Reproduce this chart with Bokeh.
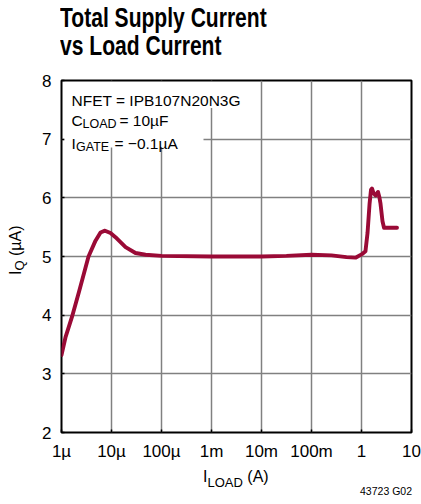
import math
from bokeh.plotting import figure
from bokeh.models import FixedTicker, Label, BoxAnnotation, Range1d, Div
from bokeh.layouts import column, row
from bokeh.embed import file_html
from bokeh.resources import INLINE

# ---------------- data ----------------
load_current_A = [1.0e-6, 1.20e-6, 1.62e-6, 2.24e-6, 3.47e-6, 4.79e-6, 6.03e-6,
                  7.41e-6, 9.55e-6, 1.20e-5, 1.91e-5, 3.02e-5, 4.79e-5, 1.0e-4,
                  1.0e-3, 1.0e-2, 3.16e-2, 0.1, 0.251, 0.501, 0.759, 1.02, 1.20,
                  1.32, 1.45, 1.55, 1.62, 1.74, 1.91, 2.14, 2.29, 2.40, 2.63,
                  2.82, 3.16, 5.13]
supply_current_uA = [3.32, 3.62, 3.97, 4.40, 5.00, 5.27, 5.41,
                     5.44, 5.40, 5.33, 5.16, 5.06, 5.03, 5.01,
                     5.00, 5.00, 5.01, 5.03, 5.02, 4.99, 4.98, 5.04, 5.09,
                     5.40, 5.90, 6.14, 6.16, 6.08, 6.04, 6.10, 6.00, 5.90, 5.60,
                     5.49, 5.49, 5.49]
x_ticks = [1e-6, 1e-5, 1e-4, 1e-3, 1e-2, 1e-1, 1, 10]
x_tick_labels = ["1µ", "10µ", "100µ", "1m", "10m", "100m", "1", "10"]
y_ticks = [2, 3, 4, 5, 6, 7, 8]

title_lines = ["Total Supply Current", "vs Load Current"]
figure_code = "43723 G02"

# ---------------- layout (page pixels) ----------------
PAGE_W, PAGE_H = 421, 504
TITLE_H = 64          # title strip height
YLAB_W = 30           # y-label strip width
BOTTOM_H = 40         # x-label strip height
FIG_X, FIG_Y = YLAB_W, TITLE_H
FIG_W, FIG_H = PAGE_W - YLAB_W, PAGE_H - TITLE_H - BOTTOM_H
F_L, F_R, F_T, F_B = 61, 411, 80, 432   # frame edges in page pixels
XMIN, XMAX, YMIN, YMAX = 1e-6, 10.0, 2.0, 8.0

def dx(px):
    lo, hi = math.log10(XMIN), math.log10(XMAX)
    return 10 ** (lo + (px - F_L) * (hi - lo) / (F_R - F_L))

def dy(py):
    return YMAX - (py - F_T) * (YMAX - YMIN) / (F_B - F_T)

FONT = "Liberation Sans"
CURVE = "#9a0a36"
ASC = 0.8465   # baseline offset (em) for line-height:1 in Liberation Sans

p = figure(width=FIG_W, height=FIG_H, x_axis_type="log",
           x_range=Range1d(XMIN, XMAX), y_range=Range1d(YMIN, YMAX),
           output_backend="svg", toolbar_location=None,
           min_border_left=F_L - FIG_X, min_border_right=FIG_X + FIG_W - F_R,
           min_border_top=F_T - FIG_Y, min_border_bottom=FIG_Y + FIG_H - F_B,
           margin=0)

p.background_fill_color = "white"
p.border_fill_color = "white"
p.outline_line_color = "black"
p.outline_line_width = 2

p.xaxis.ticker = FixedTicker(ticks=x_ticks)
p.xaxis.major_label_overrides = {t: l for t, l in zip(x_ticks, x_tick_labels)}
p.yaxis.ticker = FixedTicker(ticks=y_ticks)
for ax in (p.xaxis, p.yaxis):
    ax.axis_line_color = None
    ax.major_tick_in = 3
    ax.major_tick_out = 0
    ax.major_tick_line_color = "black"
    ax.major_tick_line_width = 1.5
    ax.minor_tick_line_color = None
    ax.major_label_text_font = FONT
    ax.major_label_text_font_size = "17px"
    ax.major_label_text_color = "black"
p.xaxis.major_label_standoff = 9
p.yaxis.major_label_standoff = 10

p.xgrid.ticker = FixedTicker(ticks=x_ticks)
p.ygrid.ticker = FixedTicker(ticks=y_ticks)
for g in (p.xgrid, p.ygrid):
    g.grid_line_color = "#808080"
    g.grid_line_width = 1.5

p.line(load_current_A, supply_current_uA, line_color=CURVE, line_width=3.9,
       line_join="round", line_cap="round")

# white background behind the condition text
p.add_layout(BoxAnnotation(left=dx(64), right=dx(246), top=dy(81.5), bottom=dy(107.5),
                           fill_color="white", fill_alpha=1, line_color=None))
p.add_layout(BoxAnnotation(left=dx(64), right=dx(203), top=dy(81.5), bottom=dy(147),
                           fill_color="white", fill_alpha=1, line_color=None))

def lab(px, py, text, size):
    p.add_layout(Label(x=dx(px), y=dy(py), text=text, text_font=FONT,
                       text_font_size=f"{size}px", text_color="black",
                       text_baseline="alphabetic", text_align="left"))

# conditions (inside the frame)
lab(71, 100, "NFET = IPB107N20N3G", 15.5)
lab(71, 120, "C", 15.5)
lab(82, 123.5, "LOAD", 12.5)
lab(119, 120, "= 10µF", 15.5)
lab(71, 143, "I", 15.5)
lab(75.5, 146.5, "GATE", 12.5)
lab(114, 143, "= \u22120.1µA", 15.5)

# ---------------- text strips outside the chart ----------------
def span(left, baseline, size, inner, extra=""):
    top = baseline - ASC * size
    return (f'<span style="position:absolute;left:{left}px;top:{top:.1f}px;'
            f'font-family:\'{FONT}\';font-size:{size}px;line-height:1;'
            f'white-space:nowrap;color:black;{extra}">{inner}</span>')

def box(w, h, inner):
    return (f'<div style="position:relative;width:{w}px;height:{h}px;'
            f'overflow:visible;">{inner}</div>')

title_html = box(PAGE_W, TITLE_H,
                 span(60, 28, 27, title_lines[0],
                      "font-weight:bold;transform:scaleX(0.78);transform-origin:0 0;") +
                 span(60, 56, 27, title_lines[1],
                      "font-weight:bold;transform:scaleX(0.78);transform-origin:0 0;"))
title_div = Div(text=title_html, width=PAGE_W, height=TITLE_H, margin=0)

# rotated y-axis label: reads bottom-to-top, baseline at x=21, starts at y=275
ysize = 16
ylab_inner = ('I<span style="font-size:13px;position:relative;top:3px;">Q</span> (µA)')
ytop = 275 - FIG_Y
yleft = 21 - ASC * ysize
ylab_html = box(YLAB_W, FIG_H,
                f'<span style="position:absolute;left:{yleft:.1f}px;top:{ytop}px;'
                f'font-family:\'{FONT}\';font-size:{ysize}px;line-height:1;'
                f'white-space:nowrap;color:black;transform:rotate(-90deg);'
                f'transform-origin:0 0;">{ylab_inner}</span>')
ylab_div = Div(text=ylab_html, width=YLAB_W, height=FIG_H, margin=0)

by = FIG_Y + FIG_H
xlab_inner = 'I<span style="font-size:13px;position:relative;top:5px;">LOAD</span> (A)'
code_size = 10.5
code_top = 495 - by - ASC * code_size
bottom_html = box(PAGE_W, BOTTOM_H,
                  span(203, 482 - by, 16, xlab_inner) +
                  f'<span style="position:absolute;right:{PAGE_W - 412}px;top:{code_top:.1f}px;'
                  f'font-family:\'{FONT}\';font-size:{code_size}px;line-height:1;'
                  f'white-space:nowrap;color:black;">{figure_code}</span>')
bottom_div = Div(text=bottom_html, width=PAGE_W, height=BOTTOM_H, margin=0)

layout = column(title_div, row(ylab_div, p, spacing=0), bottom_div, spacing=0)

open("out.html", "w").write(file_html(layout, INLINE))
